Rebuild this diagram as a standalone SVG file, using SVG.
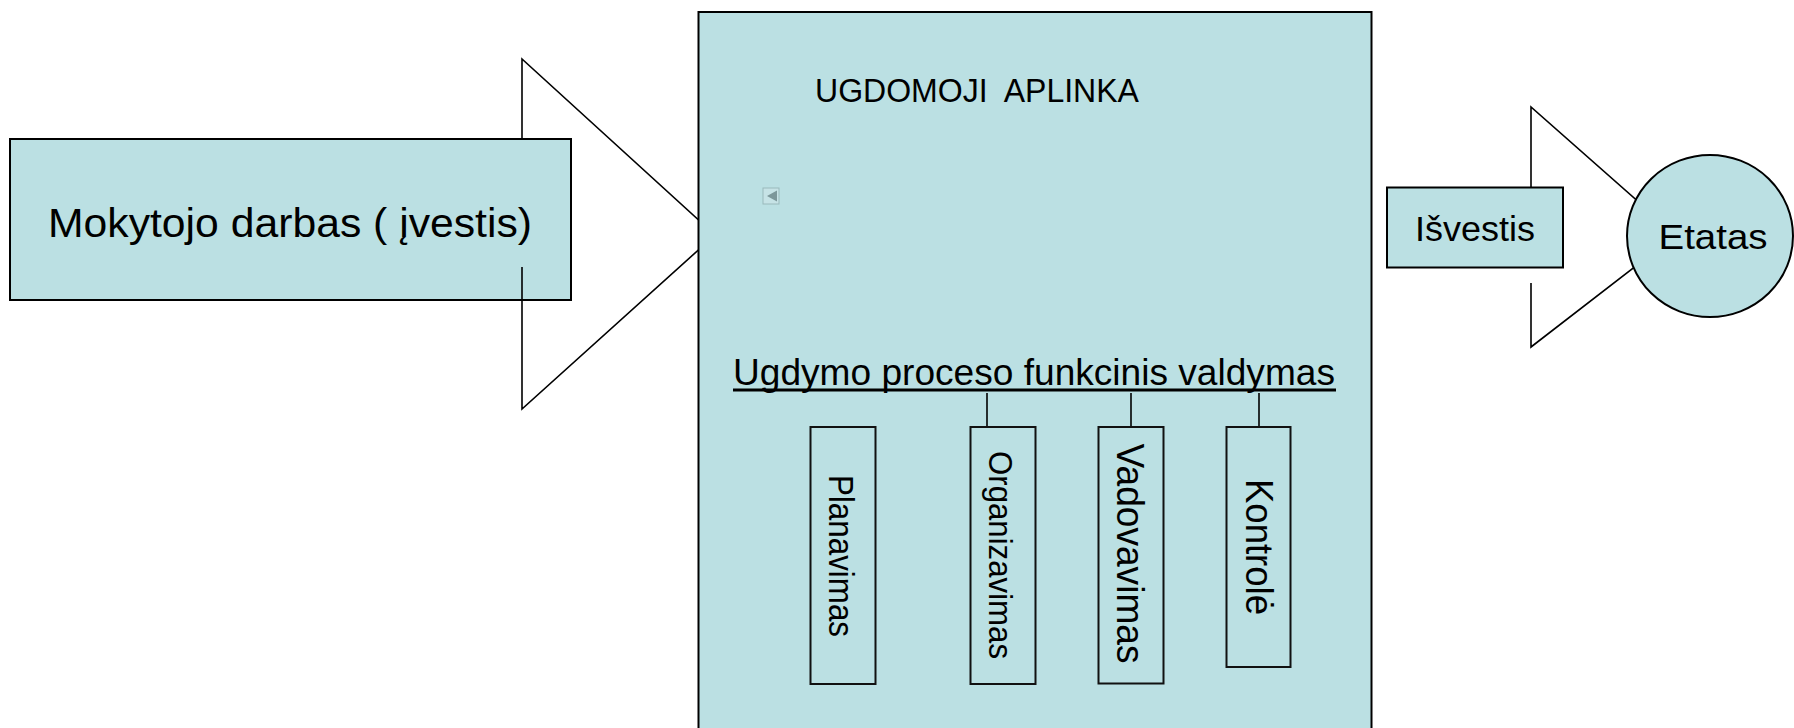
<svg xmlns="http://www.w3.org/2000/svg" width="1794" height="728" viewBox="0 0 1794 728">
<style>
.box{fill:#BBE0E3;stroke:#000;stroke-width:2}
.sub{fill:#BBE0E3;stroke:#111;stroke-width:2}
.ln{fill:none;stroke:#000;stroke-width:1.6}
.t{font-family:"Liberation Sans",Arial,sans-serif;fill:#000}
</style>
<rect width="1794" height="728" fill="#fff"/>
<g id="input-box">
<rect class="box" x="10" y="139" width="561" height="161"/>
<text class="t" x="48" y="237" font-size="40" textLength="484" lengthAdjust="spacingAndGlyphs">Mokytojo darbas ( įvestis)</text>
</g>
<g id="arrow-in">
<path class="ln" d="M522,139 V59 L715,235 L522,409 V267"/>
</g>
<g id="environment">
<rect class="box" x="698.5" y="12" width="673" height="740"/>
<text class="t" x="815" y="102" font-size="33" textLength="324" lengthAdjust="spacingAndGlyphs" xml:space="preserve">UGDOMOJI  APLINKA</text>
<rect x="763" y="188" width="16" height="16" fill="#c6e3e6" stroke="#9ab9bc" stroke-width="1"/>
<polygon points="767,196 777,190.5 777,201.5" fill="#7c979a"/>
<text class="t" x="733" y="385" font-size="36" textLength="602" lengthAdjust="spacingAndGlyphs">Ugdymo proceso funkcinis valdymas</text>
<line x1="733" y1="390" x2="1336" y2="390" stroke="#000" stroke-width="3"/>
</g>
<g id="connectors">
<line class="ln" x1="987" y1="393" x2="987" y2="427"/>
<line class="ln" x1="1131" y1="393" x2="1131" y2="427"/>
<line class="ln" x1="1259" y1="393" x2="1259" y2="427"/>
</g>
<g id="planavimas">
<rect class="sub" x="810.5" y="427" width="65" height="257"/>
<text class="t" transform="translate(829,475) rotate(90)" font-size="35" textLength="162" lengthAdjust="spacingAndGlyphs">Planavimas</text>
</g>
<g id="organizavimas">
<rect class="sub" x="970.5" y="427" width="65" height="257" stroke="#333" stroke-width="1.6"/>
<text class="t" transform="translate(989,451) rotate(90)" font-size="34" textLength="208" lengthAdjust="spacingAndGlyphs">Organizavimas</text>
</g>
<g id="vadovavimas">
<rect class="sub" x="1098.5" y="427" width="65" height="256.5"/>
<text class="t" transform="translate(1117,443.5) rotate(90)" font-size="38" textLength="220" lengthAdjust="spacingAndGlyphs">Vadovavimas</text>
</g>
<g id="kontrole">
<rect class="sub" x="1226.5" y="427" width="64" height="240"/>
<text class="t" transform="translate(1245.5,479) rotate(90)" font-size="38" textLength="136" lengthAdjust="spacingAndGlyphs">Kontrolė</text>
</g>
<g id="output-box">
<rect class="box" x="1387" y="187.5" width="176" height="80"/>
<text class="t" x="1415" y="240.5" font-size="35" textLength="120" lengthAdjust="spacingAndGlyphs">Išvestis</text>
</g>
<g id="arrow-out">
<path class="ln" d="M1531,187.5 V107 L1676,235 L1531,347 V283"/>
</g>
<g id="etatas">
<ellipse class="box" cx="1710" cy="236" rx="83" ry="81"/>
<text class="t" x="1658.5" y="249" font-size="35" textLength="109" lengthAdjust="spacingAndGlyphs">Etatas</text>
</g>
</svg>
